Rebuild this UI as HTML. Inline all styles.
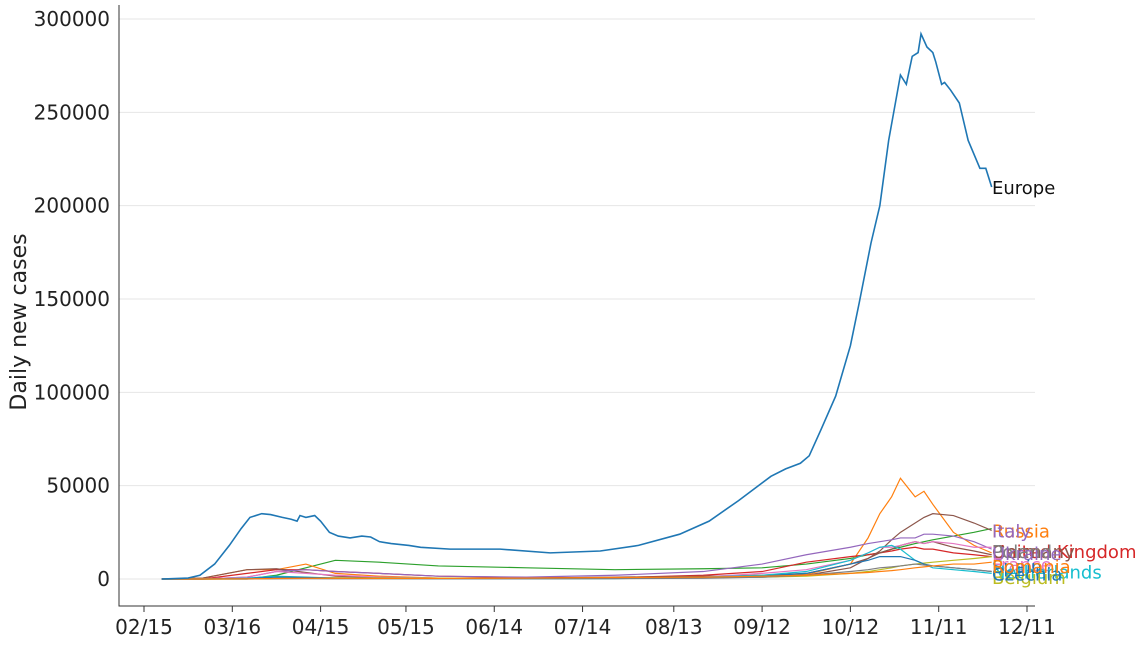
<!DOCTYPE html>
<html><head><meta charset="utf-8"><style>
body{margin:0;background:#fff;}
svg text{font-family:"DejaVu Sans","Liberation Sans",sans-serif;}
</style></head><body>
<svg id="chart" width="1143" height="640">
<g id="grid"></g><g id="series"></g><g id="axes"></g><g id="labels"></g>
</svg>
<script>
const euroDays=[6,15,19,24,29,33,36,40,43,47,50,52,53,55,58,60,63,66,70,74,77,80,84,90,94,104,121,138,155,168,182,192,202,213,218,223,226,230,235,240,243,247,250,253,257,259,261,263,264,266,268,269,271,272,274,277,280,284,286,288];
const euroVals=[0,500,2000,8000,18000,27000,33000,35000,34500,33000,32000,31000,34000,33000,34000,31000,25000,23000,22000,23000,22500,20000,19000,18000,17000,16000,16000,14000,15000,18000,24000,31000,42000,55000,59000,62000,66000,80000,98000,125000,148000,180000,200000,235000,270000,265000,280000,282000,292000,285000,282000,277000,265000,266000,262000,255000,235000,220000,220000,210000];
const cDays=[6,20,35,45,55,65,80,100,130,160,190,210,225,240,246,250,254,257,262,265,268,275,282,288];
const countryNames=["Russia","Italy","United Kingdom","Germany","Poland","Ukraine","France","Netherlands","Belgium","Spain","Czechia","Romania"];
const countryColors=["#2ca02c","#ff7f0e","#d62728","#8c564b","#8c564b","#9467bd","#e377c2","#17becf","#bcbd22","#1f77b4","#7f7f7f","#ff7f0e"];
const labelColors=["#ff7f0e","#9467bd","#d62728","#8c564b","#7f7f7f","#9467bd","#e377c2","#17becf","#bcbd22","#1f77b4","#1f77b4","#ff7f0e"];
const labelValues=[26000,26000,15000,15000,15000,14000,8000,4000,1000,7000,3000,7000];
const countryVals=[
[0,0,0,2000,6000,10000,9000,7000,6000,5000,5500,6000,8000,11000,13000,14000,16000,17000,19000,20000,21000,23000,25000,27000],
[0,500,5000,5000,8000,3000,1500,500,300,300,1000,1500,2500,8000,22000,35000,44000,54000,44000,47000,40000,25000,18000,14000],
[0,0,3000,5000,5000,4000,3000,1500,800,700,2000,4000,9000,12000,13000,14000,15000,16000,17000,16000,16000,14000,13000,12000],
[0,500,5000,5500,3500,1500,700,400,500,1000,1500,2000,3000,8000,11000,14000,16000,18000,20000,19000,20000,17000,15000,13000],
[0,0,0,200,300,400,300,300,500,500,700,1000,2000,6000,11000,15000,21000,25000,30000,33000,35000,34000,30000,26000],
[0,0,1000,4000,5000,4000,3000,1500,1000,2000,4000,8000,13000,17000,19000,20000,21000,22000,22000,24000,24000,23000,20000,16000],
[0,0,1000,4000,3000,2000,1000,500,300,300,1000,3000,5000,10000,14000,17000,17000,18000,20000,19000,20000,19000,17000,17000],
[0,0,500,1500,1000,500,300,200,100,200,1000,2000,4000,10000,14000,17000,18000,16000,10000,8000,6000,5000,4000,3000],
[0,0,100,300,500,700,600,500,400,500,800,1000,1500,3000,4000,5000,6000,7000,8000,8500,9000,10000,11000,12000],
[0,0,300,1000,800,500,300,200,200,300,700,1500,3000,8000,10000,12000,12000,12000,10000,8000,7000,6000,5000,4000],
[0,0,100,200,200,100,100,100,100,200,400,1000,2000,4000,5000,6000,6500,7000,8000,7500,7000,6000,5000,4000],
[0,0,100,300,400,400,300,300,500,800,1000,1500,2000,3000,3500,4000,4500,5000,6000,6500,7000,8000,8000,9000]
];
const yTicks=[0,50000,100000,150000,200000,250000,300000];
const xTickDays=[0,30,60,89,119,149,180,210,240,270,300];
const xTickLabels=["02/15","03/16","04/15","05/15","06/14","07/14","08/13","09/12","10/12","11/11","12/11"];
const X=d=>144+d*(883/300);
const Y=v=>579-v*(560/300000);
const NS="http://www.w3.org/2000/svg";
function mk(tag,attrs,parent){const e=document.createElementNS(NS,tag);for(const k in attrs)e.setAttribute(k,attrs[k]);parent.appendChild(e);return e;}
const grid=document.getElementById('grid'),ser=document.getElementById('series'),ax=document.getElementById('axes'),lab=document.getElementById('labels');
yTicks.forEach((t,i)=>{
 const g=mk('line',{x1:119,x2:1035,y1:Y(t),y2:Y(t),stroke:'#e6e6e6','stroke-width':1},grid);
 
 
 const tx=mk('text',{x:110,y:Y(t)+7,'text-anchor':'end','font-size':20,fill:'#222'},ax);
 tx.textContent=t;
 
 
});
xTickDays.forEach((d,i)=>{
 const tk=mk('line',{x1:X(d),x2:X(d),y1:606,y2:612,stroke:'#333'},ax);
 
 
 const tx=mk('text',{x:X(d),y:634,'text-anchor':'middle','font-size':20,fill:'#222'},ax);
 tx.textContent=xTickLabels[i];
 
 
});
const al=mk('path',{d:'M119,5 V606 H1035',fill:'none',stroke:'#333','stroke-width':1},ax);


const yl=mk('text',{x:0,y:0,transform:'translate(26,322) rotate(-90)','text-anchor':'middle','font-size':22,fill:'#222'},ax);
yl.textContent='Daily new cases';


countryVals.forEach((vals,i)=>{
 const p=mk('polyline',{points:vals.map((v,j)=>X(cDays[j])+','+Y(v)).join(' '),fill:'none',stroke:countryColors[i],'stroke-width':1.2},ser);
 
 
 const t=mk('text',{x:992,y:Y(labelValues[i])+7,'font-size':18,fill:labelColors[i]},lab);
 t.textContent=countryNames[i];
 
 
});
const ep=mk('polyline',{points:euroVals.map((v,j)=>X(euroDays[j])+','+Y(v)).join(' '),fill:'none',stroke:'#1f77b4','stroke-width':1.6},ser);


const et=mk('text',{x:992,y:Y(euroVals[euroVals.length-1])+7,'font-size':18,fill:'#111'},lab);
et.textContent='Europe';


</script>
</body></html>
